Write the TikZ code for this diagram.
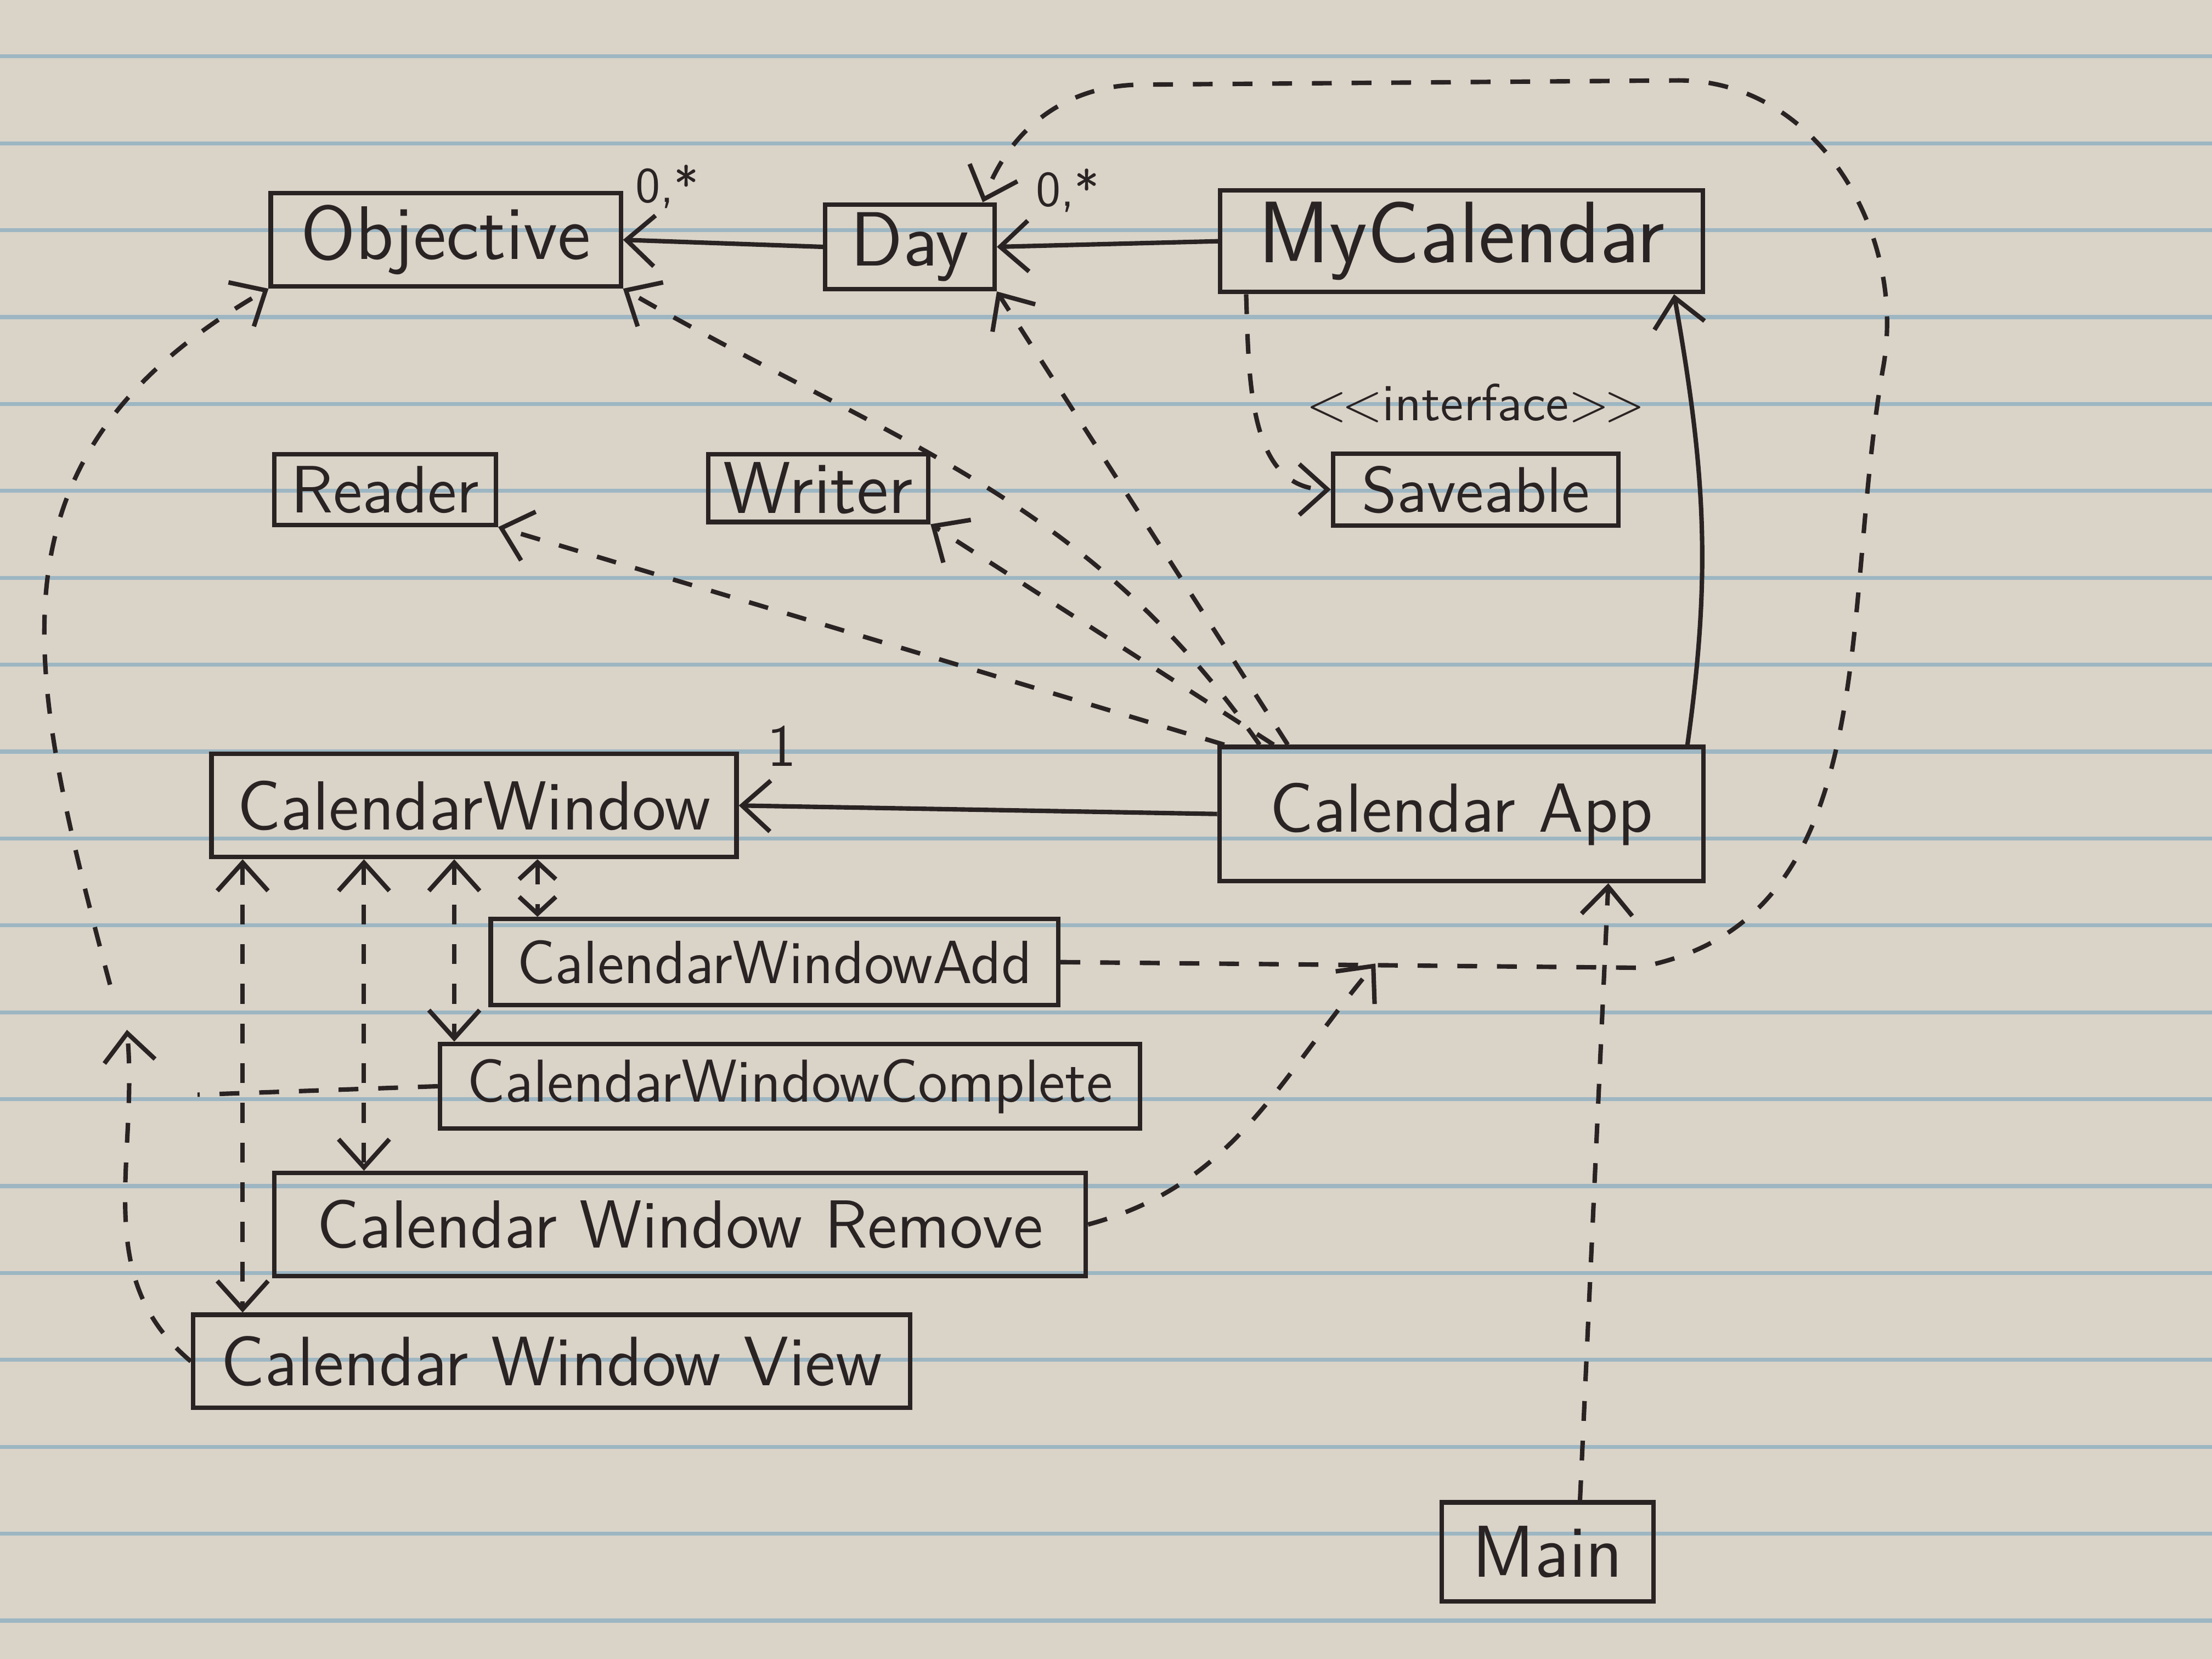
\documentclass[tikz,border=0pt]{standalone}
\usepackage{tikz}
\usetikzlibrary{positioning,arrows.meta,calc}

\definecolor{paper}{HTML}{D9D3C8}
\definecolor{rule}{HTML}{9DB6C2}
\definecolor{ink}{HTML}{2A2323}

\begin{document}
\begin{tikzpicture}[
  x=0.01cm, y=0.01cm,
  >={Straight Barb[length=2mm,width=3.6mm]},
  cls/.style={draw=ink, line width=0.9pt, inner sep=0pt, text=ink},
  assoc/.style={->, ink, line width=0.9pt},
  dep/.style={->, ink, line width=0.9pt, dash pattern=on 4pt off 4pt},
  mult/.style={font=\sffamily\fontsize{10}{12}\selectfont, text=ink},
  ruling/.style={rule, line width=0.8pt}
]

% ---------- paper ----------
\fill[paper] (0,0) rectangle (1568,-1176);
\useasboundingbox (0,0) rectangle (1568,-1176);
\foreach \ly in {0,...,18}
  \draw[ruling] (0,{-40-61.6*\ly}) -- (1568,{-40-61.6*\ly});

% ---------- model classes ----------
\node[cls, minimum width=2.48cm, minimum height=0.66cm, font=\sffamily\fontsize{15.3}{18}\selectfont] (objective) at (316,-170) {Objective};
\node[cls, minimum width=1.20cm, minimum height=0.60cm, font=\sffamily\fontsize{15.5}{18}\selectfont] (day)       at (645,-175) {Day};
\node[cls, minimum width=3.42cm, minimum height=0.72cm, font=\sffamily\fontsize{17.6}{20}\selectfont] (mycal)     at (1036,-171) {MyCalendar};

% persistence
\node[cls, minimum width=1.57cm, minimum height=0.50cm, font=\sffamily\fontsize{13.5}{16}\selectfont] (reader)   at (273,-347) {Reader};
\node[cls, minimum width=1.56cm, minimum height=0.48cm, font=\sffamily\fontsize{14.8}{17}\selectfont] (writer)   at (580,-346) {Writer};
\node[cls, minimum width=2.02cm, minimum height=0.51cm, font=\sffamily\fontsize{13}{16}\selectfont]   (saveable) at (1046,-347) {Saveable};
\node[text=ink, font=\sffamily\fontsize{10.5}{12}\selectfont, above=0.8mm of saveable] (stereo) {{<}\kern-1pt{<}interface{>}\kern-1pt{>}};

% ---------- ui classes ----------
\node[cls, minimum width=3.72cm, minimum height=0.73cm, font=\sffamily\fontsize{14}{17}\selectfont]   (calwin)     at (336,-571) {CalendarWindow};
\node[cls, minimum width=3.43cm, minimum height=0.95cm, font=\sffamily\fontsize{14}{17}\selectfont]   (calapp)     at (1036,-577) {Calendar App};
\node[cls, minimum width=4.02cm, minimum height=0.61cm, font=\sffamily\fontsize{12.3}{15}\selectfont] (cwadd)      at (549,-682) {CalendarWindowAdd};
\node[cls, minimum width=4.96cm, minimum height=0.60cm, font=\sffamily\fontsize{12.2}{15}\selectfont] (cwcomplete) at (560,-770) {CalendarWindowComplete};
\node[cls, minimum width=5.75cm, minimum height=0.73cm, font=\sffamily\fontsize{13.7}{16}\selectfont] (cwremove)   at (482,-868) {Calendar Window Remove};
\node[cls, minimum width=5.08cm, minimum height=0.66cm, font=\sffamily\fontsize{14.1}{17}\selectfont] (cwview)     at (391,-965) {Calendar Window View};
\node[cls, minimum width=1.50cm, minimum height=0.70cm, font=\sffamily\fontsize{14.8}{17}\selectfont] (main)       at (1097,-1100) {Main};

% junction points of merged dependency lines
\coordinate (jobj) at (90,-730);
\coordinate (jday) at (975,-683);
\coordinate (jcomp) at (140,-776);

% ---------- associations ----------
\draw[assoc] (day.west) -- node[mult, pos=0.78, above=1mm] {0,*} (objective.east);
\draw[assoc] (mycal.west) -- node[mult, pos=0.68, above=1mm] {0,*} (day.east);
\draw[assoc] (calapp.west) -- node[mult, pos=0.91, above=1.5mm, font=\sffamily\fontsize{12}{14}\selectfont] {1} (calwin.east);
\draw[assoc] ([xshift=-1.3mm]calapp.north east) to[out=82, in=-80] ([xshift=-2.2mm]mycal.south east);

% ---------- dependencies ----------
\draw[dep] ([xshift=2mm]mycal.south west) to[out=-88, in=180] (saveable.west);
\draw[dep] ([xshift=0.5mm]calapp.north west) -- (reader.south east);
\draw[dep] ([xshift=3mm]calapp.north west) to[out=125, in=-30] (objective.south east);
\draw[dep] ([xshift=4mm]calapp.north west) -- (writer.south east);
\draw[dep] ([xshift=5mm]calapp.north west) -- (day.south east);
\draw[dep] ([xshift=2.3mm]main.north) -- ([xshift=10.4mm]calapp.south);

% add / remove -> day (around the right)
\draw[dep] (cwadd.east) -- (1160,-686) to[out=10, in=-100] (1335,-260)
  to[out=80, in=0] (1190,-57) -- (810,-60) to[out=180, in=70] ([xshift=-1mm]day.north east);
\draw[dep] (cwremove.east) to[out=15, in=-130] (jday);

% view / complete -> objective (around the left)
\draw[dep] ([shift={(-12,32)}]jobj) to[out=105, in=210, looseness=1.2] (objective.south west);
\draw[dep] (cwview.west) to[out=140, in=-85] (jobj);
\draw[dep, -] (cwcomplete.west) -- (jcomp);

% calendar window <-> its sub windows
\foreach \sub/\x in {cwview/172, cwremove/258, cwcomplete/322}
  \draw[dep, <->] (\x,0 |- calwin.south) -- (\x,0 |- \sub.north);
\draw[dep, {Straight Barb[length=1.2mm,width=2.6mm]}-{Straight Barb[length=1.2mm,width=2.6mm]}]
  (381,0 |- calwin.south) -- (381,0 |- cwadd.north);

\end{tikzpicture}
\end{document}
